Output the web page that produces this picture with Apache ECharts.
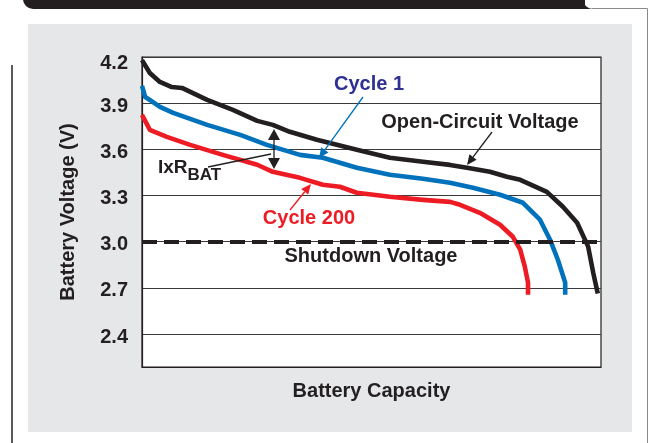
<!DOCTYPE html>
<html>
<head>
<meta charset="utf-8">
<script src="https://cdn.jsdelivr.net/npm/echarts@6/dist/echarts.min.js"></script>
<style>
  html, body { margin: 0; padding: 0; background: #fff; }
  #chart { width: 649px; height: 443px; }
</style>
</head>
<body>
<div id="chart"></div>
<script>
// Discharge curves: capacity (% of full scale) against battery voltage (V)
const ocvCapacity = [0, 1.7, 3.9, 6.5, 8.7, 14.2, 19.8, 25.1, 28.5, 32.2, 38.1, 46.8, 54.0, 61.2, 67.1, 70.8, 75.8, 79.5, 82.4, 88.2, 91.7, 94.8, 97.2, 98.3, 99.3];
const ocvVoltage  = [4.18, 4.096, 4.038, 4.005, 3.999, 3.921, 3.856, 3.785, 3.759, 3.714, 3.662, 3.597, 3.545, 3.519, 3.499, 3.480, 3.454, 3.422, 3.402, 3.324, 3.227, 3.123, 2.968, 2.799, 2.663];

const cycle1Capacity = [0, 0.7, 1.7, 3.9, 6.8, 14.2, 21.4, 27.2, 34.4, 39.4, 46.8, 54.0, 61.2, 67.1, 72.1, 78.0, 83.0, 86.7, 88.9, 90.6, 92.2, 92.2];
const cycle1Voltage  = [4.012, 3.94, 3.921, 3.876, 3.837, 3.759, 3.694, 3.629, 3.564, 3.545, 3.480, 3.435, 3.409, 3.383, 3.350, 3.305, 3.253, 3.143, 3.013, 2.883, 2.734, 2.656];

const cycle200Capacity = [0, 1.7, 5.4, 10.5, 17.6, 25.1, 28.5, 34.4, 39.4, 43.1, 46.8, 54.0, 61.2, 67.1, 69.3, 73.6, 78.0, 80.8, 82.4, 83.4, 84.1, 84.1];
const cycle200Voltage  = [3.824, 3.727, 3.681, 3.629, 3.564, 3.500, 3.454, 3.415, 3.370, 3.357, 3.318, 3.292, 3.272, 3.259, 3.240, 3.188, 3.110, 3.032, 2.948, 2.838, 2.734, 2.656];

const voltageTicks = [2.4, 2.7, 3.0, 3.3, 3.6, 3.9, 4.2];
const shutdownVoltage = 3.0;

const INK = '#231f20';
const FONT = '"Liberation Sans", Arial, Helvetica, sans-serif';

function pairs(xs, ys) { return xs.map((x, i) => [x, ys[i]]); }

// Straight arrow with a filled head at (x2, y2)
function arrow(x1, y1, x2, y2, color, len, half) {
  const dx = x2 - x1, dy = y2 - y1, d = Math.hypot(dx, dy);
  const ux = dx / d, uy = dy / d;
  const bx = x2 - ux * len, by = y2 - uy * len;
  return [
    { type: 'line', shape: { x1: x1, y1: y1, x2: bx, y2: by }, style: { stroke: color, lineWidth: 1.3 }, z: 10 },
    { type: 'polygon', shape: { points: [[x2, y2], [bx - uy * half, by + ux * half], [bx + uy * half, by - ux * half]] }, style: { fill: color }, z: 10 }
  ];
}

function label(text, x, y, color) {
  return {
    type: 'text', x: x, y: y, z: 10,
    style: { text: text, fill: color, font: 'bold 20px ' + FONT, textAlign: 'center', textVerticalAlign: 'middle' }
  };
}

const chart = echarts.init(document.getElementById('chart'), null, { renderer: 'canvas' });

const decor = [
  // page furniture: grey panel, header tab, frame rules
  { type: 'rect', shape: { x: 28, y: 24, width: 604, height: 408 }, style: { fill: '#e6e7e8' }, z: -10 },
  { type: 'rect', shape: { x: 23, y: -10, width: 562, height: 19, r: [0, 0, 0, 10] }, style: { fill: INK }, z: -5 },
  { type: 'polygon', shape: { points: [[582, 0], [584, 4], [587, 7], [590, 8.4], [594, 9], [582, 9]] }, style: { fill: INK }, z: -5 },
  { type: 'polyline', shape: { points: [[592, 8.5], [647.5, 8.5], [647.5, 443]] }, style: { stroke: '#8a8a8a', lineWidth: 1, fill: null }, z: -5 },
  { type: 'line', shape: { x1: 12, y1: 65, x2: 12, y2: 443 }, style: { stroke: '#5a5a5a', lineWidth: 2 }, z: -5 }
];

const notes = [].concat(
  label('Cycle 1', 369, 84, '#2e3192'),
  arrow(363, 97, 319, 158, '#0072bc', 10, 4.5),
  label('Open-Circuit Voltage', 480, 122, INK),
  arrow(492, 132, 467, 165, INK, 10, 4.5),
  label('Cycle 200', 309, 218, '#ed1c24'),
  arrow(290, 210, 311, 184, '#ed1c24', 10, 4.5),
  label('Shutdown Voltage', 371, 256, INK),
  {
    type: 'text', x: 158, y: 168, z: 10,
    style: {
      text: '{a|IxR}{b|BAT}', textVerticalAlign: 'middle',
      rich: {
        a: { font: 'bold 19px ' + FONT, fill: INK },
        b: { font: 'bold 17px ' + FONT, fill: INK, padding: [14, 0, 0, 0] }
      }
    }
  },
  { type: 'line', shape: { x1: 208, y1: 167, x2: 271, y2: 154 }, style: { stroke: INK, lineWidth: 1.3 }, z: 10 },
  arrow(274, 150, 274, 129, INK, 11, 6),
  arrow(274, 148, 274, 169, INK, 11, 6)
);

const lineSeries = (name, data, color) => ({
  name: name, type: 'line', data: data, showSymbol: false, symbol: 'none',
  lineStyle: { color: color, width: 4.6, cap: 'butt', join: 'round' },
  z: 3
});

chart.setOption({
  animation: false,
  backgroundColor: '#fff',
  textStyle: { fontFamily: FONT },
  grid: { left: 142, top: 57, right: 48, bottom: 76, show: true, backgroundColor: '#fff', borderColor: INK, borderWidth: 1.2 },
  xAxis: {
    type: 'value', min: 0, max: 100,
    name: 'Battery Capacity', nameLocation: 'middle', nameGap: 14,
    nameTextStyle: { fontSize: 20, fontWeight: 'bold', color: INK, fontFamily: FONT },
    axisLine: { show: true, lineStyle: { color: INK, width: 1.2 } },
    axisTick: { show: false }, axisLabel: { show: false }, splitLine: { show: false }
  },
  yAxis: {
    type: 'value', min: 2.186, max: 4.2,
    name: 'Battery Voltage (V)', nameLocation: 'middle', nameGap: 64, nameRotate: 90,
    nameTextStyle: { fontSize: 20, fontWeight: 'bold', color: INK, fontFamily: FONT },
    axisLine: { show: true, lineStyle: { color: INK, width: 1.2 } },
    axisTick: { show: false, customValues: voltageTicks },
    axisLabel: {
      customValues: voltageTicks, margin: 14, fontSize: 20, fontWeight: 'bold', color: INK, fontFamily: FONT,
      formatter: v => (v >= 4.2 ? '{top|' : '{v|') + v.toFixed(1) + '}',
      rich: {
        top: { fontSize: 20, fontWeight: 'bold', color: INK, fontFamily: FONT, padding: [13, 0, 0, 0] },
        v: { fontSize: 20, fontWeight: 'bold', color: INK, fontFamily: FONT, padding: [6, 0, 0, 0] }
      }
    },
    splitLine: { show: true, lineStyle: { color: '#3a3a3a', width: 1 } }
  },
  series: [
    Object.assign(lineSeries('Open-Circuit Voltage', pairs(ocvCapacity, ocvVoltage), INK), {
      markLine: {
        silent: true, symbol: ['none', 'none'], label: { show: false },
        lineStyle: { color: INK, width: 4, type: [15, 7] },
        data: [{ yAxis: shutdownVoltage }]
      }
    }),
    lineSeries('Cycle 1', pairs(cycle1Capacity, cycle1Voltage), '#0072bc'),
    lineSeries('Cycle 200', pairs(cycle200Capacity, cycle200Voltage), '#ed1c24')
  ],
  graphic: decor.concat(notes)
});
</script>
</body>
</html>
